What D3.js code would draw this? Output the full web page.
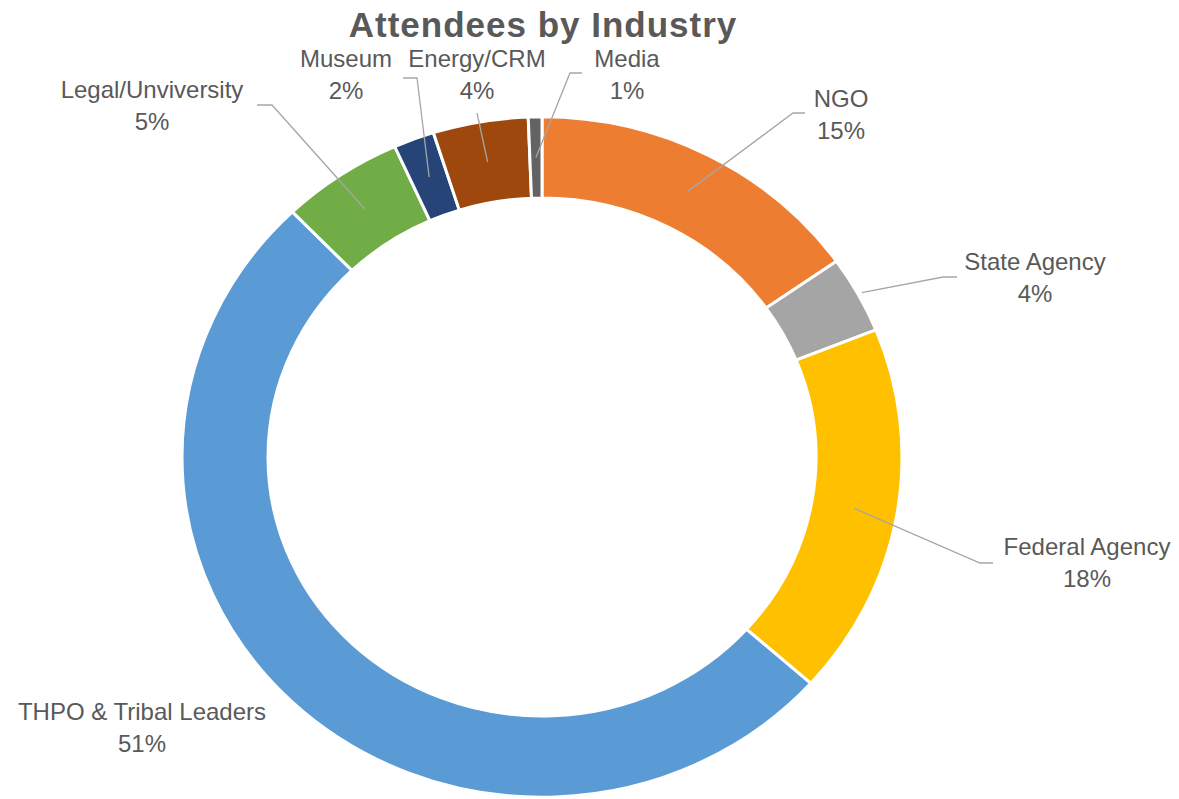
<!DOCTYPE html>
<html>
<head>
<meta charset="utf-8">
<script src="https://cdnjs.cloudflare.com/ajax/libs/d3/7.8.5/d3.min.js"></script>
<style>
  body { margin: 0; background: #fff; }
  svg { display: block; }
</style>
</head>
<body>
<div id="chart"></div>
<script>
// data (counts estimated so the slices and the rounded % fit)
var categories = ["NGO", "State Agency", "Federal Agency", "THPO & Tribal Leaders",
                  "Legal/Unviversity", "Museum", "Energy/CRM", "Media"];
var counts = [25, 6, 29, 84, 9, 3, 7, 1];
var colors = ["#ED7D31", "#A5A5A5", "#FFC000", "#5B9BD5",
              "#70AD47", "#264478", "#9E480E", "#636363"];
var title = "Attendees by Industry";

// layout (the original ring is slightly squashed vertically)
var width = 1179, height = 799;
var cx = 542, cy = 457;
var outerR = 360, innerR = 274, midR = (outerR + innerR) / 2;
var squash = 0.945;

// label block centre (x, first baseline) and the elbow of the leader line
var labelLayout = {
  "NGO":                   { x: 841,  y: 107, elbow: [[805, 113], [793, 113]], r: midR },
  "State Agency":          { x: 1035, y: 270, elbow: [[957, 277], [943, 277]], r: outerR + 4 },
  "Federal Agency":        { x: 1087, y: 555, elbow: [[993, 563], [980, 563]], r: midR },
  "THPO & Tribal Leaders": { x: 142,  y: 720, elbow: null },
  "Legal/Unviversity":     { x: 152,  y: 98,  elbow: [[257, 105], [272, 105]], r: midR },
  "Museum":                { x: 346,  y: 67,  elbow: [[403, 78], [417, 78]], r: midR },
  "Energy/CRM":            { x: 477,  y: 67,  elbow: [[477, 113]], r: midR },
  "Media":                 { x: 627,  y: 67,  elbow: [[582, 73], [570, 73]], r: midR }
};

var total = d3.sum(counts);
var pct = d3.format(".0%");

var data = categories.map(function(c, i) {
  return { name: c, value: counts[i], color: colors[i] };
});

var svg = d3.select("#chart").append("svg")
  .attr("width", width)
  .attr("height", height);

var pie = d3.pie().sort(null).value(function(d) { return d.value; });
var arc = d3.arc().innerRadius(innerR).outerRadius(outerR);

var g = svg.append("g")
  .attr("transform", "translate(" + cx + "," + cy + ") scale(1," + squash + ")");

var slices = pie(data);

g.selectAll("path.slice").data(slices)
  .enter().append("path")
  .attr("class", "slice")
  .attr("d", arc)
  .attr("fill", function(d) { return d.data.color; })
  .attr("stroke", "#fff")
  .attr("stroke-width", 3)
  .attr("vector-effect", "non-scaling-stroke");

// leader lines
var line = d3.line();
slices.forEach(function(d) {
  var lay = labelLayout[d.data.name];
  if (!lay.elbow) return;
  var a = (d.startAngle + d.endAngle) / 2;
  var end = [cx + lay.r * Math.sin(a), cy - squash * lay.r * Math.cos(a)];
  var pts = lay.elbow.concat([end]);
  svg.append("path")
    .attr("d", line(pts))
    .attr("fill", "none")
    .attr("stroke", "#A6A6A6")
    .attr("stroke-width", 1.3);
});

// labels
slices.forEach(function(d) {
  var lay = labelLayout[d.data.name];
  var t = svg.append("text")
    .attr("text-anchor", "middle")
    .attr("font-family", "'Liberation Sans', Arial, sans-serif")
    .attr("font-size", "24px")
    .attr("fill", "#595959");
  t.append("tspan").attr("x", lay.x).attr("y", lay.y).text(d.data.name);
  t.append("tspan").attr("x", lay.x).attr("y", lay.y + 32).text(pct(d.data.value / total));
});

svg.append("text")
  .attr("x", 543)
  .attr("y", 37)
  .attr("text-anchor", "middle")
  .attr("font-family", "'Liberation Sans', Arial, sans-serif")
  .attr("font-weight", "bold")
  .attr("font-size", "35px")
  .attr("letter-spacing", "1px")
  .attr("fill", "#595959")
  .text(title);
</script>
</body>
</html>
